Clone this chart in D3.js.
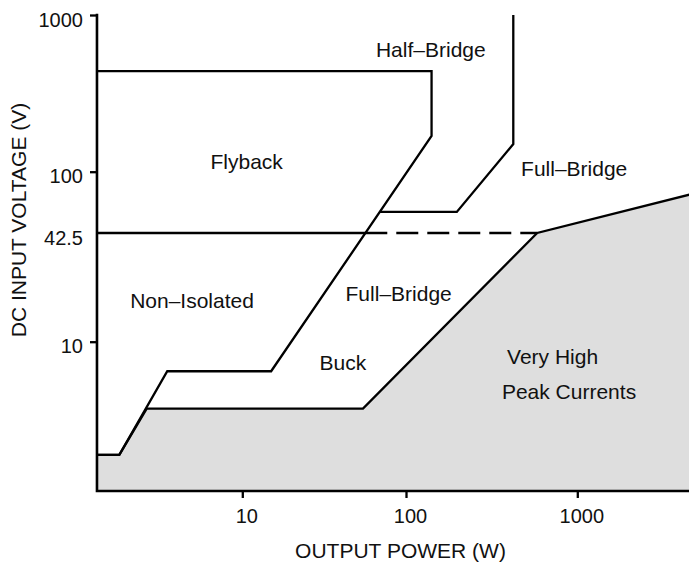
<!DOCTYPE html>
<html>
<head>
<meta charset="utf-8">
<script src="https://cdn.jsdelivr.net/npm/d3@7"></script>
<style>
  html, body { margin: 0; padding: 0; background: #fff; }
  svg { display: block; }
  text { font-family: "Liberation Sans", Arial, Helvetica, sans-serif; fill: #111; }
</style>
</head>
<body>
<svg id="chart" width="689" height="562"></svg>
<script>
// ---- data (x: output power W, y: DC input voltage V) ----
const X_MIN = 1.295, X_MAX = 4600;
const Y_MIN = 1.324, Y_MAX = 1000;

const xTickValues = [10, 100, 1000];
const xTickLabels = ["10", "100", "1000"];
const yTickValues = [10, 42.5, 100, 1000];
const yTickLabels = ["10", "42.5", "100", "1000"];

// Flyback / Non-Isolated boundary
const flybackLine = [[X_MIN, 439], [141, 439], [141, 169], [15, 6.7], [3.48, 6.7], [1.773, 2.16], [X_MIN, 2.16]];
// Half-Bridge boundary
const halfBridgeLine = [[423, 1000], [423, 150], [198, 57], [69.3, 57]];
// 42.5 V line: solid part, dashed part
const line425Solid = [[X_MIN, 42.5], [56.4, 42.5]];
const line425Dashed = [[56.4, 42.5], [583, 42.5]];
// Very High Peak Currents region boundary
const peakBoundary = [[X_MIN, 2.16], [1.773, 2.16], [2.606, 4.04], [54.6, 4.04], [583, 42.5], [X_MAX, 73]];

const regionLabels = [
  { text: "Half–Bridge", x: 139.6, y: 540, anchor: "middle" },
  { text: "Flyback", x: 10.64, y: 104, anchor: "middle" },
  { text: "Full–Bridge", x: 959, y: 94.2, anchor: "middle" },
  { text: "Non–Isolated", x: 4.93, y: 15.6, anchor: "middle" },
  { text: "Full–Bridge", x: 90.2, y: 17.2, anchor: "middle" },
  { text: "Buck", x: 41.2, y: 6.82, anchor: "middle" },
  { text: "Very High", x: 389, y: 7.4, anchor: "start" },
  { text: "Peak Currents", x: 363, y: 4.6, anchor: "start" }
];

const xTitle = "OUTPUT POWER (W)";
const yTitle = "DC INPUT VOLTAGE (V)";

// ---- scales ----
const x = d3.scaleLog().domain([1, 10, 100, 1000, 10000]).range([78.6, 242.3, 406, 577.3, 748.6]);
const y = d3.scaleLog().domain([1, 10, 42.5, 100, 1000]).range([511.7, 341.7, 233, 171.7, 15]);

const svg = d3.select("#chart");
const line = d3.line().x(d => x(d[0])).y(d => y(d[1]));
const SW = 2.3;

// gray area
const area = peakBoundary.concat([[X_MAX, Y_MIN], [X_MIN, Y_MIN]]);
svg.append("path").attr("d", line(area) + "Z").attr("fill", "#dedede").attr("stroke", "none");

// boundary lines
function stroke(data, dash) {
  const p = svg.append("path").attr("d", line(data))
    .attr("fill", "none").attr("stroke", "#000").attr("stroke-width", SW)
    .attr("stroke-linejoin", "miter");
  if (dash) p.attr("stroke-dasharray", dash);
  return p;
}
stroke(peakBoundary);
stroke(flybackLine);
stroke(halfBridgeLine);
stroke(line425Solid);
stroke(line425Dashed, "22,9");

// axes
const xAxisG = svg.append("g").attr("transform", `translate(0,${y(Y_MIN)})`)
  .call(d3.axisBottom(x).tickValues(xTickValues).tickFormat((d, i) => xTickLabels[i]).tickSize(7).tickSizeOuter(0));
const yAxisG = svg.append("g").attr("transform", `translate(${x(X_MIN)},0)`)
  .call(d3.axisLeft(y).tickValues(yTickValues).tickFormat((d, i) => yTickLabels[i]).tickSize(7).tickSizeOuter(0));

[xAxisG, yAxisG].forEach(g => {
  g.select(".domain").remove();
  g.selectAll(".tick line").attr("stroke", "#000").attr("stroke-width", SW);
  g.selectAll(".tick text").attr("font-size", 20).attr("fill", "#111")
    .style("font-family", '"Liberation Sans", Arial, sans-serif');
});
xAxisG.selectAll(".tick text").attr("y", 0).attr("dy", 0).attr("transform", "translate(4,32)");
yAxisG.selectAll(".tick text").attr("x", -14).attr("dy", 0).attr("transform", "translate(0,11)");
yAxisG.selectAll(".tick").filter(d => d === 42.5).select("line").remove();

// axis domain lines
svg.append("path").attr("d", line([[X_MIN, Y_MAX], [X_MIN, Y_MIN], [X_MAX, Y_MIN]]))
  .attr("fill", "none").attr("stroke", "#000").attr("stroke-width", 2.6).attr("stroke-linecap", "square");

// region labels
svg.selectAll(".rlabel").data(regionLabels).enter().append("text")
  .attr("class", "rlabel")
  .attr("x", d => x(d.x)).attr("y", d => y(d.y))
  .attr("text-anchor", d => d.anchor)
  .attr("font-size", 21)
  .text(d => d.text);

// axis titles
svg.append("text").attr("x", 400.5).attr("y", 558).attr("text-anchor", "middle")
  .attr("font-size", 21).text(xTitle);
svg.append("text").attr("transform", "translate(26,220) rotate(-90)").attr("text-anchor", "middle")
  .attr("font-size", 21).text(yTitle);
</script>
</body>
</html>
